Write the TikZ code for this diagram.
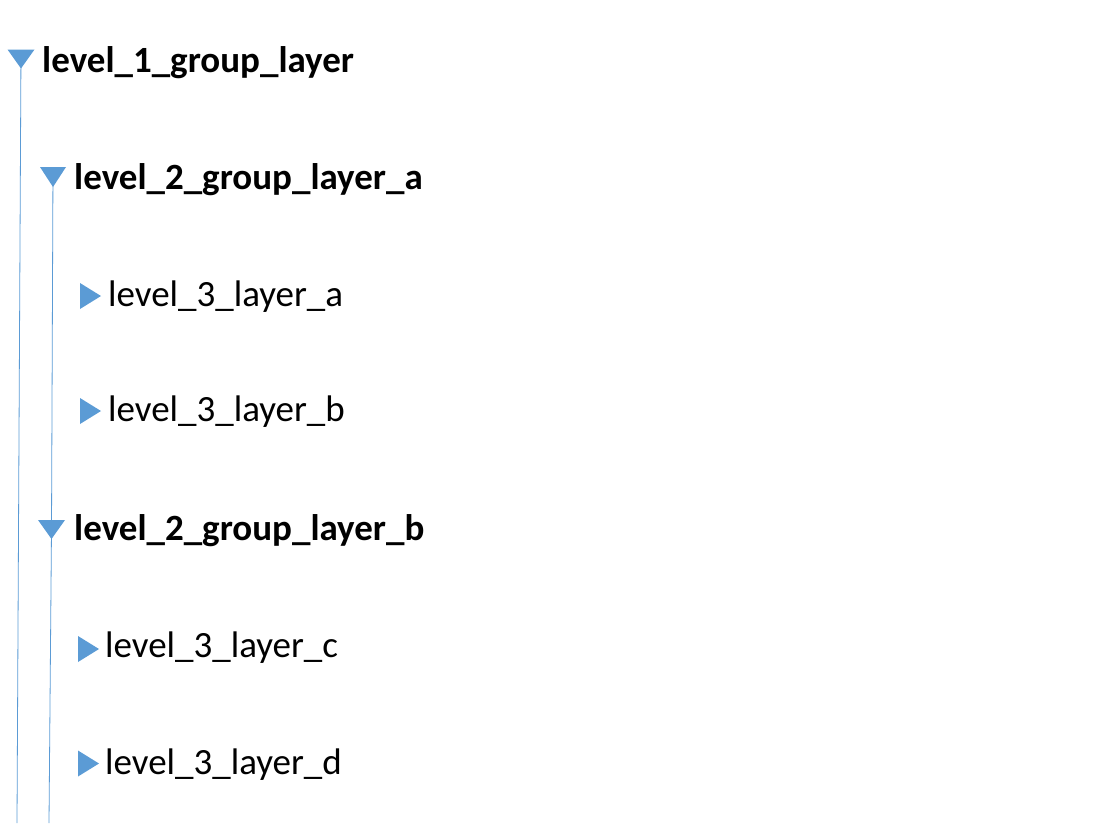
\documentclass[tikz,border=0pt]{standalone}
\usepackage{fontspec}
\setmainfont{Carlito}
\definecolor{treeblue}{HTML}{5B9BD5}

\begin{document}
\begin{tikzpicture}[x=1pt,y=-1pt,
  every node/.style={inner sep=0pt,anchor=base west,font=\fontsize{37}{42}\selectfont},
  group/.style={font=\fontsize{37}{42}\selectfont\bfseries},
  guide/.style={treeblue,line width=0.8pt},
  opened/.style={fill=treeblue},
  closed/.style={fill=treeblue}]
\useasboundingbox (0,0) rectangle (1108,823);
% open triangles
\coordinate (t1) at (21,59);
\coordinate (t2a) at (53,177);
\coordinate (t2b) at (51.5,529.5);
\fill [opened] (t1) +(-13.5,-9.5) -- +(13.5,-9.5) -- +(0,9.5) -- cycle;
\fill [opened] (t2a) +(-13,-10) -- +(13,-10) -- +(0,10) -- cycle;
\fill [opened] (t2b) +(-13.5,-9.5) -- +(13.5,-9.5) -- +(0,9.5) -- cycle;
% closed triangles
\coordinate (t3a) at (90,296);
\coordinate (t3b) at (90,411);
\coordinate (t3c) at (88,649);
\coordinate (t3d) at (88,763.5);
\foreach \t in {t3a,t3b,t3c,t3d}
  \fill [closed] (\t) +(-10,-13) -- +(11,0) -- +(-10,13) -- cycle;
% guide lines
\coordinate (e1) at (17,823);
\coordinate (e2) at (49,823);
\draw [guide] ([yshift=9pt]t1) -- (e1);
\draw [guide] ([yshift=10pt]t2a) -- (t2b);
\draw [guide] (t2b) -- (e2);
% labels
\node [group] (l1) at (42,72) {level\_1\_group\_layer};
\node [group] (l2a) at (74,189) {level\_2\_group\_layer\_a};
\node (l3a) at (108,306) {level\_3\_layer\_a};
\node (l3b) at (108,421) {level\_3\_layer\_b};
\node [group] (l2b) at (74,540) {level\_2\_group\_layer\_b};
\node (l3c) at (105,657) {level\_3\_layer\_c};
\node (l3d) at (105,774) {level\_3\_layer\_d};
\end{tikzpicture}
\end{document}
